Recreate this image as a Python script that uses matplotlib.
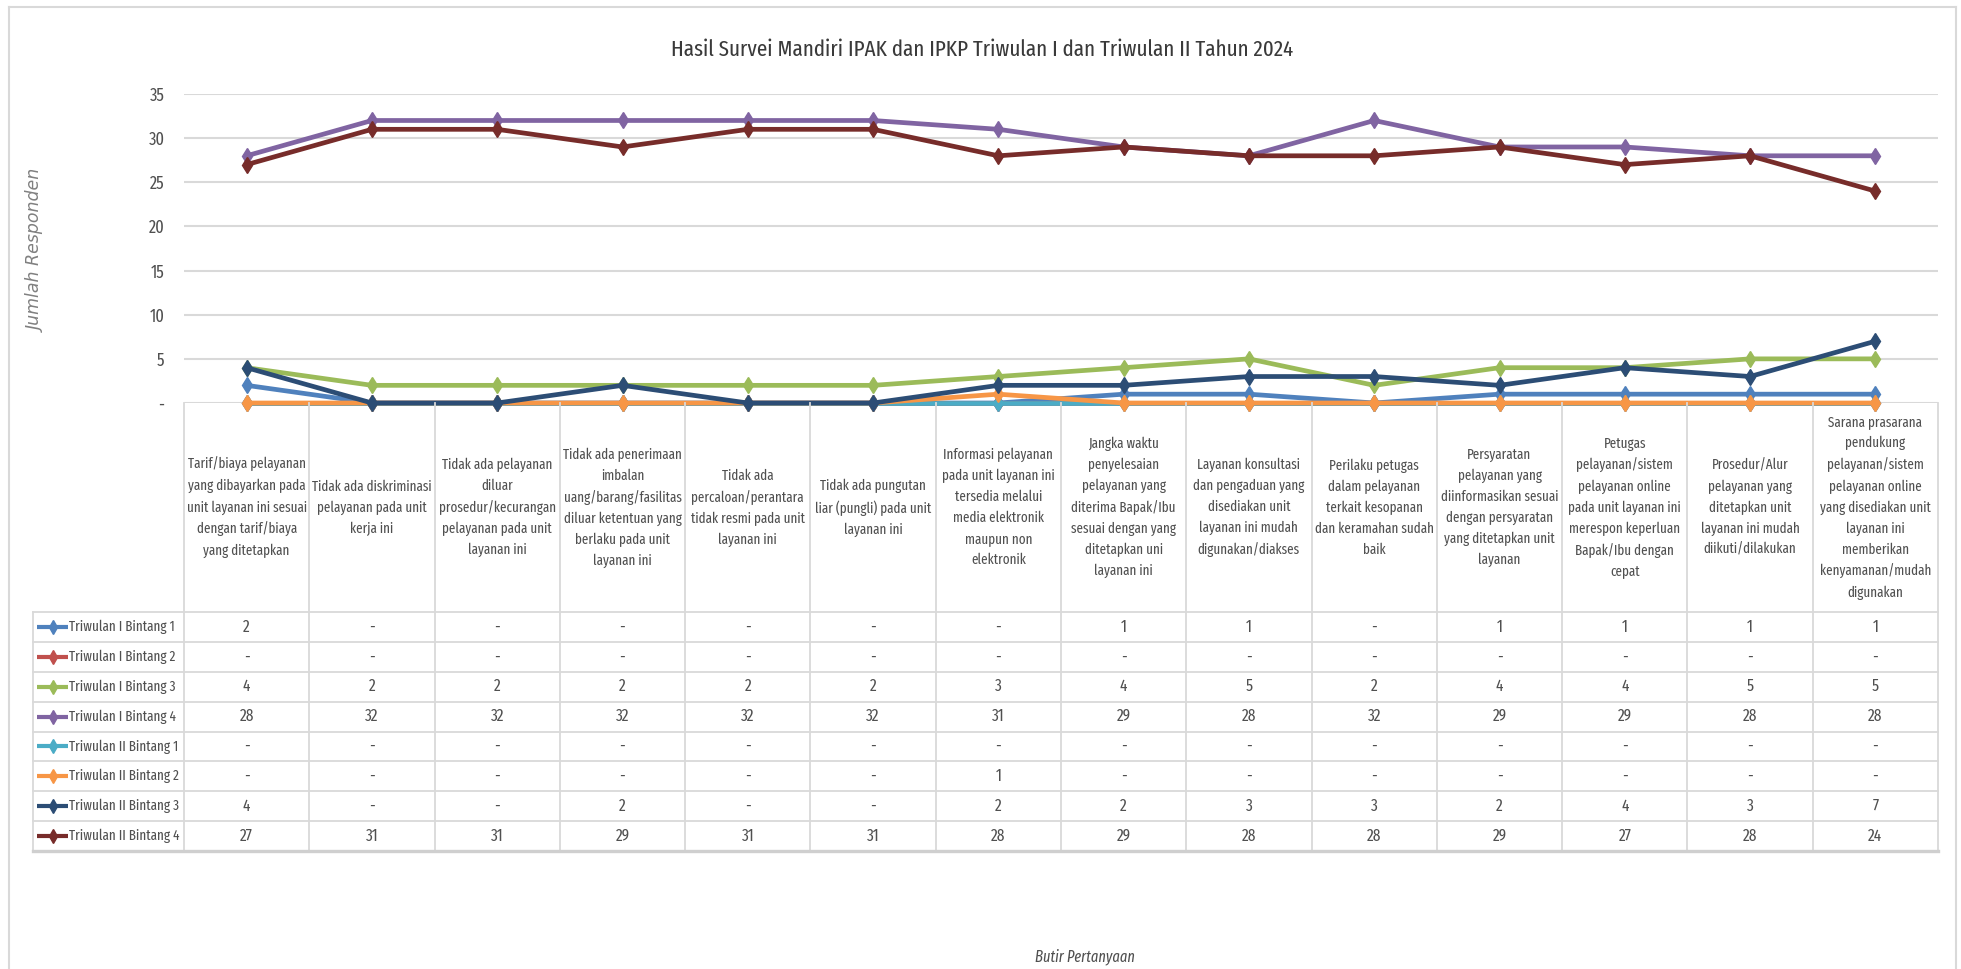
import numpy as np
import matplotlib
matplotlib.use("Agg")
import matplotlib.pyplot as plt
from matplotlib.lines import Line2D
from matplotlib.ticker import FuncFormatter
from matplotlib import font_manager

# ---------------- data ----------------
title = "Hasil Survei Mandiri IPAK dan IPKP Triwulan I dan Triwulan II Tahun 2024"
y_title = "Jumlah Responden"
x_title = "Butir Pertanyaan"

categories = [
    "Tarif/biaya pelayanan\nyang dibayarkan pada\nunit layanan ini sesuai\ndengan tarif/biaya\nyang ditetapkan",
    "Tidak ada diskriminasi\npelayanan pada unit\nkerja ini",
    "Tidak ada pelayanan\ndiluar\nprosedur/kecurangan\npelayanan pada unit\nlayanan ini",
    "Tidak ada penerimaan\nimbalan\nuang/barang/fasilitas\ndiluar ketentuan yang\nberlaku pada unit\nlayanan ini",
    "Tidak ada\npercaloan/perantara\ntidak resmi pada unit\nlayanan ini",
    "Tidak ada pungutan\nliar (pungli) pada unit\nlayanan ini",
    "Informasi pelayanan\npada unit layanan ini\ntersedia melalui\nmedia elektronik\nmaupun non\nelektronik",
    "Jangka waktu\npenyelesaian\npelayanan yang\nditerima Bapak/Ibu\nsesuai dengan yang\nditetapkan uni\nlayanan ini",
    "Layanan konsultasi\ndan pengaduan yang\ndisediakan unit\nlayanan ini mudah\ndigunakan/diakses",
    "Perilaku petugas\ndalam pelayanan\nterkait kesopanan\ndan keramahan sudah\nbaik",
    "Persyaratan\npelayanan yang\ndiinformasikan sesuai\ndengan persyaratan\nyang ditetapkan unit\nlayanan",
    "Petugas\npelayanan/sistem\npelayanan online\npada unit layanan ini\nmerespon keperluan\nBapak/Ibu dengan\ncepat",
    "Prosedur/Alur\npelayanan yang\nditetapkan unit\nlayanan ini mudah\ndiikuti/dilakukan",
    "Sarana prasarana\npendukung\npelayanan/sistem\npelayanan online\nyang disediakan unit\nlayanan ini\nmemberikan\nkenyamanan/mudah\ndigunakan",
]

series_names = [
    "Triwulan I Bintang 1", "Triwulan I Bintang 2", "Triwulan I Bintang 3", "Triwulan I Bintang 4",
    "Triwulan II Bintang 1", "Triwulan II Bintang 2", "Triwulan II Bintang 3", "Triwulan II Bintang 4",
]
t1_b1 = [2, 0, 0, 0, 0, 0, 0, 1, 1, 0, 1, 1, 1, 1]
t1_b2 = [0, 0, 0, 0, 0, 0, 0, 0, 0, 0, 0, 0, 0, 0]
t1_b3 = [4, 2, 2, 2, 2, 2, 3, 4, 5, 2, 4, 4, 5, 5]
t1_b4 = [28, 32, 32, 32, 32, 32, 31, 29, 28, 32, 29, 29, 28, 28]
t2_b1 = [0, 0, 0, 0, 0, 0, 0, 0, 0, 0, 0, 0, 0, 0]
t2_b2 = [0, 0, 0, 0, 0, 0, 1, 0, 0, 0, 0, 0, 0, 0]
t2_b3 = [4, 0, 0, 2, 0, 0, 2, 2, 3, 3, 2, 4, 3, 7]
t2_b4 = [27, 31, 31, 29, 31, 31, 28, 29, 28, 28, 29, 27, 28, 24]
series = [t1_b1, t1_b2, t1_b3, t1_b4, t2_b1, t2_b2, t2_b3, t2_b4]
yticks = [0, 5, 10, 15, 20, 25, 30, 35]

colors = ["#4F81BD", "#C0504D", "#9BBB59", "#8064A2",
          "#4BACC6", "#F79646", "#2C4D75", "#772C2A"]

# ---------------- fonts ----------------
names = {f.name for f in font_manager.fontManager.ttflist}
pref = ["Fira Sans Extra Condensed", "Barlow Condensed", "Roboto Condensed",
        "IBM Plex Sans Condensed", "Archivo Narrow", "PT Sans Narrow",
        "Liberation Sans Narrow", "Carlito", "Liberation Sans"]
COND_NAME = next(p for p in pref if p in names)
COND = [COND_NAME, "DejaVu Sans"]
TXT = "#505050"
GRID = "#D9D9D9"

W, H = 1961, 969
fig = plt.figure(figsize=(W / 100, H / 100), dpi=100)
fig.patch.set_facecolor("white")
renderer = fig.canvas.get_renderer()


def text_box(s, size, **kw):
    t = fig.text(0, 0, s, fontsize=size, family=COND, **kw)
    bb = t.get_window_extent(renderer)
    t.remove()
    return bb


def fit_size(s, target_w, **kw):
    return 10 * target_w / text_box(s, 10, **kw).width


def line_step(size):
    h1 = text_box("Ag", size, linespacing=1.0).height
    h2 = text_box("Ag\nAg", size, linespacing=1.0).height
    return h2 - h1


def fx(px):
    return px / W


def fy(py):
    return 1 - py / H


# target widths measured on the reference (pixels)
FS_TAB = fit_size("Tarif/biaya pelayanan", 118)
FS_ROW = fit_size("Triwulan II Bintang 4", 111)
FS_TITLE = fit_size(title, 623)
FS_XT = fit_size(x_title, 100, style="italic")
LS_HDR = 22.7 / line_step(FS_TAB)
FS_NUM = FS_TAB * 1.18

L, R = 184, 1938
TOP, ZERO = 94, 403
TBOT = 851
HDR = 612

# ---------------- line chart ----------------
ax = fig.add_axes([fx(L), fy(ZERO), (R - L) / W, (ZERO - TOP) / H])
n = len(categories)
xpos = np.arange(n) + 0.5
for vals, c in zip(series, colors):
    ax.plot(xpos, vals, color=c, lw=3.4, marker="d", ms=8, mfc=c, mec=c,
            solid_joinstyle="round", clip_on=False, zorder=3)
ax.set_xlim(0, n)
ax.set_ylim(0, 35)
ax.set_yticks(yticks)
ax.yaxis.set_major_formatter(FuncFormatter(lambda v, p: "-" if v == 0 else f"{int(v)}"))
ax.tick_params(axis="y", length=0, pad=14, labelsize=FS_TAB * 1.25, labelcolor=TXT)
for lab in ax.get_yticklabels():
    lab.set_family(COND)
ax.set_xticks([])
ax.grid(axis="y", color=GRID, lw=1.5)
ax.set_axisbelow(True)
for s in ax.spines.values():
    s.set_visible(False)

# ---------------- data table ----------------
tb = fig.add_axes([fx(L), fy(TBOT), (R - L) / W, (TBOT - ZERO) / H])
tb.set_xlim(0, n)
tb.set_ylim(TBOT - ZERO, 0)
tb.axis("off")
colw = (R - L) / n
hdr_h = HDR - ZERO
row_h = (TBOT - HDR) / len(series)
x_left = (33 - L) / colw

for i in range(n + 1):
    tb.plot([i, i], [0, TBOT - ZERO], color=GRID, lw=1.3, clip_on=False)
tb.plot([x_left, x_left], [hdr_h, TBOT - ZERO], color=GRID, lw=1.3, clip_on=False)
for k in range(len(series) + 1):
    yk = hdr_h + k * row_h
    last = k == len(series)
    tb.plot([x_left, n], [yk, yk], color="#CFCFCF" if last else GRID,
            lw=2.4 if last else 1.3, clip_on=False)

for i, cat in enumerate(categories):
    tb.text(i + 0.5, hdr_h / 2, cat, ha="center", va="center", fontsize=FS_TAB,
            family=COND, color=TXT, linespacing=LS_HDR)

for k, (name, vals, c) in enumerate(zip(series_names, series, colors)):
    yc = hdr_h + (k + 0.5) * row_h
    for i, v in enumerate(vals):
        tb.text(i + 0.5, yc, "-" if v == 0 else str(v), ha="center", va="center",
                fontsize=FS_NUM, family=COND, color=TXT)
    x0, x1 = (37 - L) / colw, (68 - L) / colw
    tb.plot([x0, x1], [yc, yc], color=c, lw=3, clip_on=False, solid_capstyle="butt")
    tb.plot([(x0 + x1) / 2], [yc], color=c, marker="d", ms=7, clip_on=False)
    tb.text((69 - L) / colw, yc, name, ha="left", va="center", fontsize=FS_ROW,
            family=COND, color=TXT)

# ---------------- titles ----------------
fig.text(fx(982), fy(50), title, ha="center", va="center", fontsize=FS_TITLE,
         family=COND, color="#3A3A3A")
fig.text(fx(1085), fy(957), x_title, ha="center", va="center", fontsize=FS_XT,
         family=COND, style="italic", color=TXT)
fig.text(fx(37), fy(251), y_title, ha="center", va="center", rotation=90,
         fontsize=12.5, family="DejaVu Sans", style="italic", color="#808080")

# outer chart border
for xs, ys in [([9, 9], [7, H]), ([9, 1956], [7, 7]), ([1956, 1956], [7, H])]:
    fig.add_artist(Line2D([fx(v) for v in xs], [fy(v) for v in ys],
                          transform=fig.transFigure, color=GRID, lw=1.5))

fig.savefig("out.png", dpi=100, facecolor="white")
